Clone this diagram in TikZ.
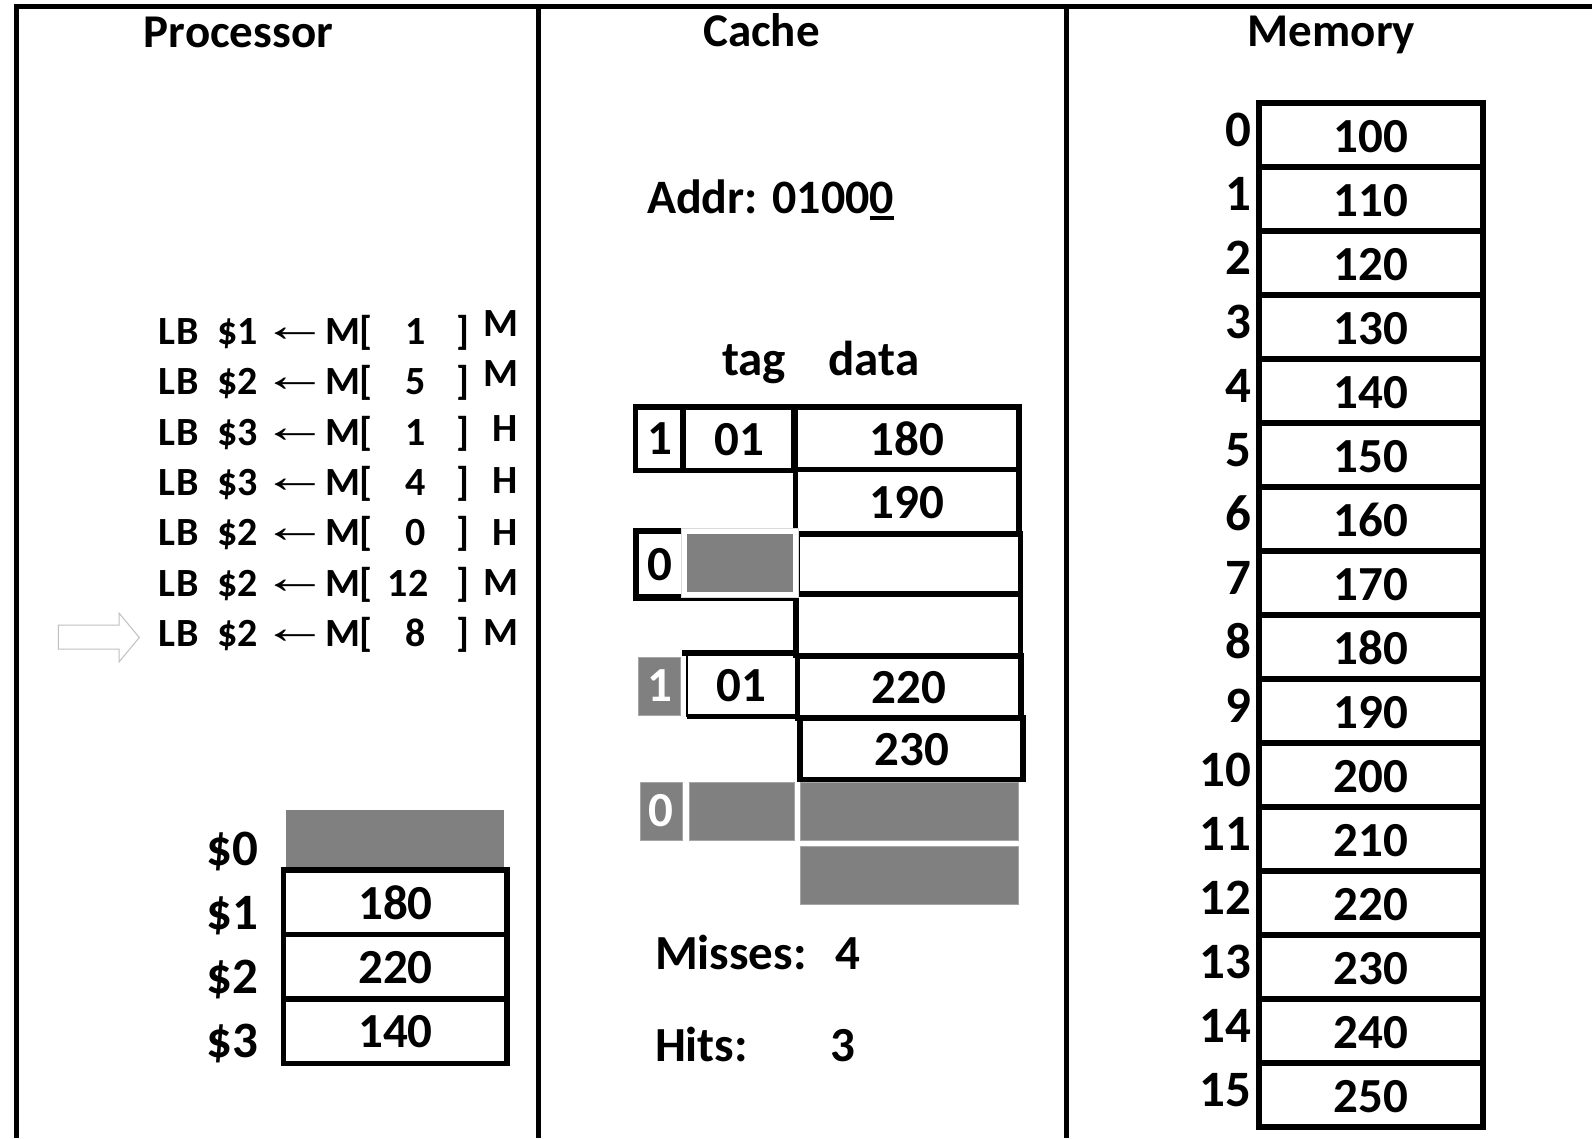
\documentclass[tikz,border=0pt]{standalone}
\usepackage{fontspec}
\setmainfont{Carlito}
\newfontfamily\arrowfont{Liberation Serif}
\definecolor{cellgray}{HTML}{808080}
\definecolor{edgegray}{HTML}{A6A6A6}
\definecolor{pointer}{HTML}{BFBFBF}
% last address bit, underlined with a heavy rule
\newcommand\ulzero{\setbox0\hbox{0}\rlap{\rule[-6.7pt]{\wd0}{4.3pt}}\box0}
% assignment arrow of the trace lines, widened and trimmed to the drawn glyph
\newcommand\getsarrow{\setbox0\hbox{\raisebox{3pt}{\scalebox{1.5}[1.05]{\fontsize{45}{45}\selectfont\arrowfont ←}}}%
  \ht0=22pt \dp0=0pt \makebox[42pt][c]{\box0}}
\begin{document}
\begin{tikzpicture}[x=1pt,y=-1pt,
  every node/.style={inner sep=0pt,outer sep=0pt},
  big/.style={font=\fontsize{49}{58}\selectfont\bfseries},
  head/.style={font=\fontsize{47}{56}\selectfont\bfseries},
  lbl/.style={font=\fontsize{51}{60}\selectfont\bfseries},
  instr/.style={font=\fontsize{40}{48}\selectfont\bfseries},
  frameline/.style={line width=5pt,line join=miter},
  cell/.style={draw=black,line width=5.5pt},
  grayblk/.style={fill=cellgray,draw=edgegray,line width=1pt},
]
\useasboundingbox (0,0) rectangle (1592,1138);
\fill[white] (0,0) rectangle (1592,1138);

% ---- frame and column dividers ----
\draw[frameline] (16,1138) -- (16,6.5) -- (1592,6.5);
\draw[frameline] (538.4,6.5) -- (538.4,1138);
\draw[frameline] (1066.5,6.5) -- (1066.5,1138);

\node[head,anchor=base] (tproc)  at (238.5,47) {Processor};
\node[head,anchor=base] (tcache) at (761.5,46) {Cache};
\node[head,anchor=base] (tmem)   at (1331.5,46.5) {Memory};

% ---- instruction trace ----
\foreach \k/\r/\a/\xa/\res/\yr in {0/1/1/416/M/336.7, 1/2/5/416/M/386, 2/3/1/416/H/441.7,
    3/3/4/416/H/493.3, 4/2/0/416/H/545, 5/2/12/408/M/595, 6/2/8/416/M/645}{
  \pgfmathsetmacro\yb{344.3+50.4*\k}
  \node[instr,anchor=base west] (op\k)  at (158,\yb) {L\kern2pt B};
  \node[instr,anchor=base west] (rd\k)  at (217,\yb) {\$\r};
  \node[instr,anchor=base]      (ar\k)  at (295,\yb) {\getsarrow};
  \node[instr,anchor=base west] (mb\k)  at (325,\yb) {M[};
  \node[instr,anchor=base]      (ad\k)  at (\xa,\yb) {\a};
  \node[instr,anchor=base west] (me\k)  at (456,\yb) {]};
  \node[instr,anchor=base east] (hm\k)  at (518,\yr) {\res};
}

% current-instruction pointer
\draw[draw=pointer,fill=white,line width=1pt]
  (58.3,625) -- (119,625) -- (119,613) -- (139.3,637.5) -- (119,662) -- (119,649) -- (58.3,649) -- cycle;

% ---- register file ----
\fill[cellgray] (286,810) rectangle (504,868);
\foreach \k in {0,1,2}{
  \draw[cell] (283.7,870+64.5*\k) rectangle (507,934.5+64.5*\k);
}
\node[big,anchor=base] (r1v) at (395.5,919.5) {180};
\node[big,anchor=base] (r2v) at (395.5,983.5) {220};
\node[big,anchor=base] (r3v) at (395.5,1047.5) {140};
\node[lbl,anchor=base east] (r0) at (258,865) {\$0};
\node[lbl,anchor=base east] (r1) at (258,929) {\$1};
\node[lbl,anchor=base east] (r2) at (258,993) {\$2};
\node[lbl,anchor=base east] (r3) at (258,1057) {\$3};

% ---- cache ----
\node[big,anchor=base west,font=\fontsize{48}{58}\selectfont\bfseries] (addr) at (647,213.3) {Addr: 0100\ulzero};
\node[big,anchor=base] (htag)  at (754,375.7) {tag};
\node[big,anchor=base] (hdata) at (874,375.7) {data};

% set 0, block 0 (valid)
\draw[cell] (635.5,407) rectangle (683,470.5);
\draw[cell] (683,407) rectangle (794,470.5);
\draw[cell] (795.5,407) rectangle (1019,469.5);
\draw[cell] (795.5,469.5) rectangle (1019,534);
\node[big,anchor=base] (v0) at (659.5,454.3) {1};
\node[big,anchor=base] (t0) at (739.5,455) {01};
\node[big,anchor=base] (d0) at (907,455) {180};
\node[big,anchor=base] (d1) at (907,518.3) {190};

% set 1, block 0 (invalid)
\draw[cell] (797,534) rectangle (1020.5,594);
\draw[cell] (796,594) rectangle (1020.5,655.5);
\draw[cell,line width=6.5pt] (636,531) rectangle (796,597.5);
\fill[white] (681,528) rectangle (798,597);
\draw[draw=black!15,line width=1pt] (681,528) rectangle (798,597);
\fill[cellgray] (686.7,534.3) rectangle (792.7,591.7);
\node[big,anchor=base] (v1) at (660,580) {0};

% set 0, block 1 (valid)
\draw[cell] (797.5,656) rectangle (1021,718);
\draw[cell] (800,718) rectangle (1023,779.7);
\draw[line width=5.5pt] (682,653) -- (796,653);
\draw[line width=5.5pt] (687,716.7) -- (796,716.7);
\draw[line width=2pt] (687,653) -- (687,716.7);
\fill[grayblk] (638.3,657.7) rectangle (680.7,715);
\node[big,anchor=base,text=white] (v2) at (659.5,701.7) {1};
\node[big,anchor=base] (t2) at (741,701.7) {01};
\node[big,anchor=base] (d4) at (909,703.3) {220};
\node[big,anchor=base] (d5) at (912,765) {230};

% set 1, block 1 (invalid)
\filldraw[grayblk] (640.7,782.7) rectangle (682.3,840);
\filldraw[grayblk] (689,782.7) rectangle (794,840);
\filldraw[grayblk] (800.3,782.7) rectangle (1018.3,840);
\filldraw[grayblk] (800.3,846.7) rectangle (1018.3,904);
\node[big,anchor=base,text=white] (v3) at (661.3,826.7) {0};

\node[big,anchor=base west] (miss)  at (655,969) {Misses:};
\node[big,anchor=base west] (missn) at (835,969) {4};
\node[big,anchor=base west] (hit)   at (655,1061) {Hits:};
\node[big,anchor=base west] (hitn)  at (830,1061) {3};

% ---- main memory ----
\foreach \i/\v in {0/100,1/110,2/120,3/130,4/140,5/150,6/160,7/170,
                   8/180,9/190,10/200,11/210,12/220,13/230,14/240,15/250}{
  \pgfmathsetmacro\yt{103+64*\i}
  \draw[cell] (1259,\yt) rectangle (1483,\yt+64);
  \node[big,anchor=base] (mv\i) at (1371,\yt+49) {\v};
  \node[lbl,anchor=base east] (ma\i) at (1251,\yt+43) {\i};
}
\end{tikzpicture}
\end{document}
